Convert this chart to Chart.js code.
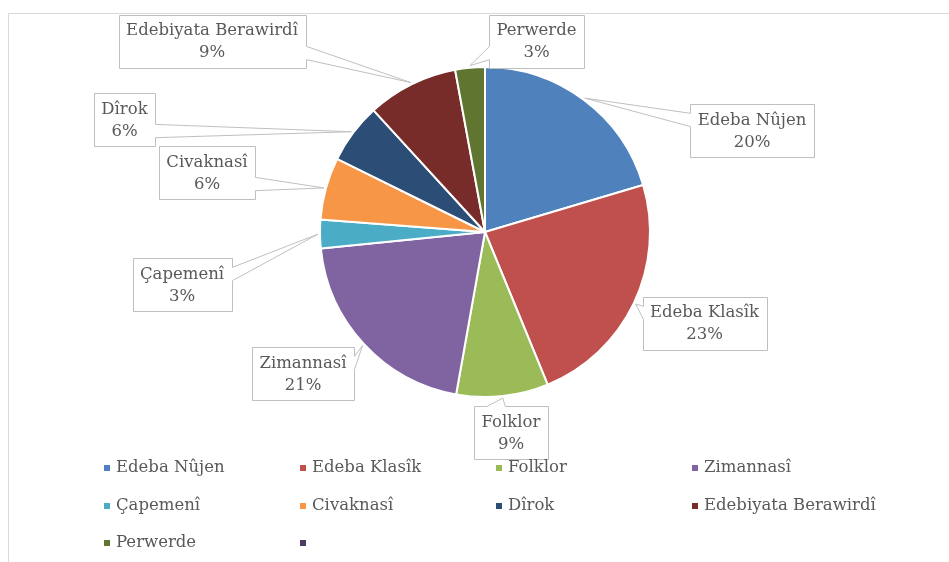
<!DOCTYPE html>
<html><head><meta charset="utf-8">
<script src="https://cdn.jsdelivr.net/npm/chart.js@4.4.0/dist/chart.umd.min.js"></script>
<style>html,body{margin:0;padding:0;background:#fff;}canvas{display:block}</style>
</head><body>
<canvas id="c" width="949" height="562"></canvas>
<script>
// ---- data ----
const categories = ['Edeba Nûjen','Edeba Klasîk','Folklor','Zimannasî','Çapemenî','Civaknasî','Dîrok','Edebiyata Berawirdî','Perwerde',''];
const shares = [20.4, 23.4, 9.0, 20.6, 2.8, 6.1, 5.9, 8.9, 2.9, 0];
const colors = ['#4f81bd','#c0504d','#9bbb59','#8064a2','#4bacc6','#f79646','#2c4d75','#772c2a','#5f7530','#4d3b62'];

// ---- layout (not data) ----
const calloutOffsets = [[267,-101.5],[219.5,91],[26,200.5],[-182,141.5],[-303,52.5],[-278,-59.5],[-360.5,-112.5],[-273,-191],[51.5,-191]];
const legendCols = [104, 300, 496, 692];
const legendRows = [468, 506, 543];
const FONT = '16.5px "DejaVu Serif"';
const TEXT = '#595959';

const total = shares.reduce((a,b)=>a+b,0);

const framePlugin = {
  id:'frame',
  beforeDraw(chart){
    const ctx = chart.ctx;
    ctx.save();
    ctx.strokeStyle = '#d9d9d9';
    ctx.lineWidth = 1;
    ctx.beginPath();
    ctx.moveTo(8.5, 562); ctx.lineTo(8.5, 13.5); ctx.lineTo(949, 13.5);
    ctx.stroke();
    ctx.restore();
  }
};

const calloutPlugin = {
  id:'callouts',
  afterDatasetsDraw(chart){
    const ctx = chart.ctx;
    const meta = chart.getDatasetMeta(0);
    ctx.save();
    ctx.font = FONT;
    meta.data.forEach((arc,i)=>{
      if(!categories[i] || !calloutOffsets[i]) return;
      const p = arc.getProps(['x','y','startAngle','endAngle','outerRadius'], true);
      const mid = (p.startAngle + p.endAngle)/2;
      const ax = p.x + Math.cos(mid)*(p.outerRadius+2);
      const ay = p.y + Math.sin(mid)*(p.outerRadius+2);
      const pct = Math.round(shares[i]/total*100) + '%';
      const w = Math.round(Math.max(ctx.measureText(categories[i]).width, ctx.measureText(pct).width) + 15);
      const h = 53;
      const bcx = p.x + calloutOffsets[i][0], bcy = p.y + calloutOffsets[i][1];
      const bx = Math.round(bcx - w/2) + 0.5, by = Math.round(bcy - h/2) + 0.5;
      const dx = ax - bcx, dy = ay - bcy;
      let side = null;
      if (Math.abs(dx) > w/2 || Math.abs(dy) > h/2) {
        if (Math.abs(dx)*h > Math.abs(dy)*w) side = dx > 0 ? 'right' : 'left';
        else side = dy > 0 ? 'bottom' : 'top';
      }
      const pts = [];
      pts.push([bx,by]);
      if (side==='top'){ const f = dx>0?[7,10]:[2,5]; pts.push([bx+w*f[0]/12,by],[ax,ay],[bx+w*f[1]/12,by]); }
      pts.push([bx+w,by]);
      if (side==='right'){ const f = dy>0?[7,10]:[2,5]; pts.push([bx+w,by+h*f[0]/12],[ax,ay],[bx+w,by+h*f[1]/12]); }
      pts.push([bx+w,by+h]);
      if (side==='bottom'){ const f = dx>0?[7,10]:[2,5]; pts.push([bx+w*f[1]/12,by+h],[ax,ay],[bx+w*f[0]/12,by+h]); }
      pts.push([bx,by+h]);
      if (side==='left'){ const f = dy>0?[7,10]:[2,5]; pts.push([bx,by+h*f[1]/12],[ax,ay],[bx,by+h*f[0]/12]); }
      ctx.beginPath();
      pts.forEach((q,k)=> k? ctx.lineTo(q[0],q[1]) : ctx.moveTo(q[0],q[1]));
      ctx.closePath();
      ctx.fillStyle = '#ffffff';
      ctx.fill();
      ctx.strokeStyle = '#bfbfbf';
      ctx.lineWidth = 1;
      ctx.stroke();
      ctx.fillStyle = TEXT;
      ctx.textAlign = 'center';
      ctx.textBaseline = 'middle';
      ctx.fillText(categories[i], bcx, bcy - 10);
      ctx.fillText(pct, bcx, bcy + 12);
    });
    ctx.restore();
  }
};

const legendPlugin = {
  id:'gridLegend',
  afterDraw(chart){
    const ctx = chart.ctx;
    ctx.save();
    ctx.font = FONT;
    ctx.textAlign = 'left';
    ctx.textBaseline = 'middle';
    categories.forEach((c,i)=>{
      const x = legendCols[i % legendCols.length];
      const y = legendRows[Math.floor(i / legendCols.length)];
      ctx.fillStyle = colors[i];
      ctx.fillRect(x, y-3, 6, 6);
      if (c) { ctx.fillStyle = TEXT; ctx.fillText(c, x + 12, y); }
    });
    ctx.restore();
  }
};

new Chart(document.getElementById('c'), {
  type:'pie',
  data:{
    labels: categories,
    datasets:[{
      data: shares,
      backgroundColor: colors,
      borderColor:'#ffffff',
      borderWidth:2
    }]
  },
  options:{
    responsive:false,
    animation:false,
    layout:{ padding:{ top:66, bottom:164, left:21, right:0 } },
    plugins:{ legend:{ display:false }, tooltip:{ enabled:false } }
  },
  plugins:[framePlugin, calloutPlugin, legendPlugin]
});
</script>
</body></html>
